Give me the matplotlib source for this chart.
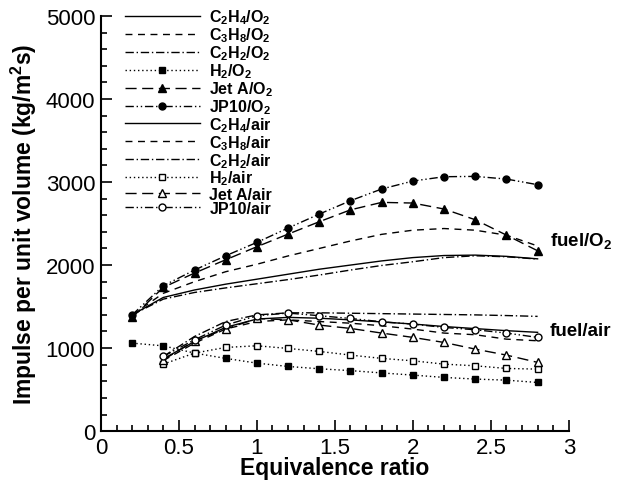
import numpy as np
import matplotlib
matplotlib.use("Agg")
import matplotlib.pyplot as plt
from matplotlib.ticker import MultipleLocator

plt.rcParams['font.family'] = ['Liberation Sans', 'DejaVu Sans']
plt.rcParams['mathtext.fontset'] = 'custom'
plt.rcParams['mathtext.rm'] = 'Liberation Sans:bold'
plt.rcParams['mathtext.bf'] = 'Liberation Sans:bold'
plt.rcParams['mathtext.it'] = 'Liberation Sans:bold'
plt.rcParams['mathtext.default'] = 'bf'

# ====================== Data ======================
phi_o2 = np.array([0.2, 0.4, 0.6, 0.8, 1.0, 1.2, 1.4, 1.6, 1.8, 2.0, 2.2, 2.4, 2.6, 2.8])
phi_air = phi_o2[1:]

c2h4_o2 = [1400, 1610, 1700, 1770, 1830, 1890, 1950, 2000, 2050, 2090, 2115, 2120, 2105, 2075]
c3h8_o2 = [1400, 1660, 1800, 1920, 2010, 2110, 2200, 2290, 2370, 2420, 2440, 2420, 2360, 2230]
c2h2_o2 = [1400, 1590, 1670, 1725, 1775, 1825, 1880, 1940, 1995, 2040, 2090, 2112, 2100, 2072]
h2_o2 = [1060, 1027, 940, 876, 819, 779, 751, 729, 701, 675, 647, 627, 614, 586]
jeta_o2 = [1370, 1731, 1904, 2064, 2221, 2373, 2522, 2665, 2755, 2747, 2675, 2546, 2361, 2172]
jp10_o2 = [1400, 1751, 1940, 2112, 2273, 2446, 2614, 2775, 2916, 3012, 3064, 3068, 3036, 2968]

c2h4_air = [870, 1080, 1250, 1350, 1370, 1360, 1340, 1315, 1290, 1260, 1235, 1210, 1190]
c3h8_air = [850, 1060, 1230, 1320, 1340, 1320, 1300, 1269, 1229, 1181, 1161, 1108, 1088]
c2h2_air = [900, 1140, 1320, 1400, 1425, 1425, 1420, 1415, 1410, 1405, 1400, 1392, 1382]
h2_air = [807, 940, 1008, 1028, 996, 960, 916, 876, 847, 807, 787, 755, 747]
jeta_air = [859, 1088, 1229, 1357, 1341, 1277, 1237, 1181, 1129, 1068, 988, 916, 828]
jp10_air = [900, 1100, 1277, 1390, 1422, 1390, 1357, 1317, 1289, 1249, 1221, 1181, 1129]

# ====================== Plot ======================
fig = plt.figure(figsize=(6.23, 4.85), dpi=100)
ax = fig.add_axes([0.162, 0.109, 0.751, 0.856])

k = dict(color='black', linewidth=1.0)
ax.plot(phi_o2, c2h4_o2, '-', label='C$_2$H$_4$/O$_2$', **k)
ax.plot(phi_o2, c3h8_o2, linestyle=(0, (5, 4)), label='C$_3$H$_8$/O$_2$', **k)
ax.plot(phi_o2, c2h2_o2, linestyle=(0, (6, 2, 1, 2)), label='C$_2$H$_2$/O$_2$', **k)
ax.plot(phi_o2, h2_o2, linestyle=(0, (1, 2)), marker='s', markersize=5, label='H$_2$/O$_2$', **k)
ax.plot(phi_o2, jeta_o2, linestyle=(0, (8, 4)), marker='^', markersize=5.5, label='Jet A/O$_2$', **k)
ax.plot(phi_o2, jp10_o2, linestyle=(0, (6, 2, 1, 2, 1, 2)), marker='o', markersize=5, label='JP10/O$_2$', **k)

ax.plot(phi_air, c2h4_air, '-', label='C$_2$H$_4$/air', **k)
ax.plot(phi_air, c3h8_air, linestyle=(0, (5, 4)), label='C$_3$H$_8$/air', **k)
ax.plot(phi_air, c2h2_air, linestyle=(0, (6, 2, 1, 2)), label='C$_2$H$_2$/air', **k)
ax.plot(phi_air, h2_air, linestyle=(0, (1, 2)), marker='s', markersize=5, mfc='white', label='H$_2$/air', **k)
ax.plot(phi_air, jeta_air, linestyle=(0, (8, 4)), marker='^', markersize=6, mfc='white', label='Jet A/air', **k)
ax.plot(phi_air, jp10_air, linestyle=(0, (6, 2, 1, 2, 1, 2)), marker='o', markersize=5, mfc='white', label='JP10/air', **k)

ax.text(2.88, 2300, 'fuel/O$_2$', fontsize=13.5, fontweight='bold', va='center', ha='left')
ax.text(2.88, 1215, 'fuel/air', fontsize=13.5, fontweight='bold', va='center', ha='left')

ax.set_xlim(0, 3)
ax.set_ylim(0, 5000)
ax.xaxis.set_major_locator(MultipleLocator(0.5))
ax.xaxis.set_minor_locator(MultipleLocator(0.1))
ax.yaxis.set_major_locator(MultipleLocator(1000))
ax.yaxis.set_minor_locator(MultipleLocator(200))
ax.set_xticks([0, 0.5, 1, 1.5, 2, 2.5, 3])
ax.set_xticklabels(['0', '0.5', '1', '1.5', '2', '2.5', '3'])
ax.tick_params(which='both', direction='in', labelsize=16, width=1.2)
ax.tick_params(which='major', length=8, pad=4)
ax.tick_params(which='minor', length=4)
ax.spines['top'].set_visible(False)
ax.spines['right'].set_visible(False)
ax.spines['left'].set_linewidth(1.5)
ax.spines['bottom'].set_linewidth(1.5)

ax.set_xlabel('Equivalence ratio', fontsize=16.5, fontweight='bold', labelpad=-1)
ax.set_ylabel('Impulse per unit volume (kg/m$^2$s)', fontsize=16.5, fontweight='bold', labelpad=5)

leg = ax.legend(loc='upper left', bbox_to_anchor=(0.051, 1.02), frameon=False,
                prop={'size': 11.5, 'weight': 'bold'}, handlelength=4.7,
                handletextpad=0.6, labelspacing=-0.05, borderpad=0, borderaxespad=0)

fig.savefig('out.png', dpi=100)
